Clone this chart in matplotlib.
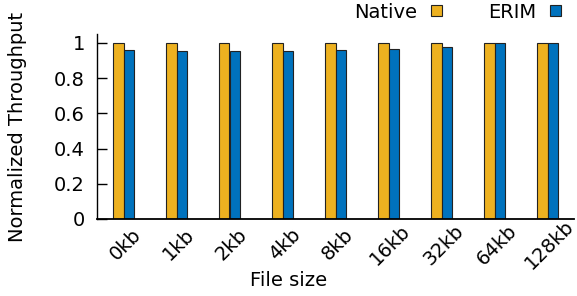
import matplotlib
matplotlib.use("Agg")
import matplotlib.pyplot as plt
import matplotlib.transforms as mtransforms
from matplotlib.patches import Patch
import numpy as np

categories = ["0kb", "1kb", "2kb", "4kb", "8kb", "16kb", "32kb", "64kb", "128kb"]
native = [1.0, 1.0, 1.0, 1.0, 1.0, 1.0, 1.0, 1.0, 1.0]
erim = [0.959, 0.952, 0.955, 0.952, 0.961, 0.963, 0.975, 1.0, 1.0]
yticks = [0, 0.2, 0.4, 0.6, 0.8, 1]
yticklabels = ["0", "0.2", "0.4", "0.6", "0.8", "1"]

plt.rcParams['font.family'] = ['DejaVu Sans']
FS = 14

fig = plt.figure(figsize=(5.77, 2.96), dpi=100)
ax = fig.add_axes([97/577, 1-219/296, 477/577, 185/296])

x = np.arange(len(categories))
w = 0.2
c_native = "#EDB120"
c_erim = "#0072BD"
ax.bar(x - w/2, native, w, color=c_native, edgecolor="#222222", linewidth=0.8)
ax.bar(x + w/2, erim, w, color=c_erim, edgecolor="#222222", linewidth=0.8)

ax.set_xlim(-0.5, 8.5)
ax.set_ylim(0, 1.05)

for s in ["top", "right"]:
    ax.spines[s].set_visible(False)
ax.spines["left"].set_linewidth(1.0)
ax.spines["bottom"].set_linewidth(1.3)

ax.set_yticks(yticks)
ax.set_yticklabels(yticklabels, fontsize=FS)
ax.tick_params(axis="y", direction="in", length=7, width=1.0, pad=8.6)

ax.set_xticks(x)
ax.set_xticklabels(categories, fontsize=FS, rotation=45, ha="center", va="center")
ax.tick_params(axis="x", length=0, pad=18.5)
offset = mtransforms.ScaledTranslation(2/100, 0, fig.dpi_scale_trans)
for lab in ax.get_xticklabels():
    lab.set_transform(lab.get_transform() + offset)

ax.set_xlabel("File size", fontsize=FS)
ax.xaxis.set_label_coords(0.5, 1-281/296, transform=fig.transFigure)
ax.xaxis.label.set_va("center")
ax.set_ylabel("Normalized Throughput", fontsize=FS)
ax.yaxis.set_label_coords(18/577, 0.5)
ax.yaxis.label.set_transform(mtransforms.blended_transform_factory(fig.transFigure, ax.transAxes))
ax.yaxis.label.set_va("center")

handles = [Patch(facecolor=c_native, edgecolor="#222222", linewidth=0.8, label="Native"),
           Patch(facecolor=c_erim, edgecolor="#222222", linewidth=0.8, label="ERIM")]
fig.legend(handles=handles, ncol=2, markerfirst=False, frameon=False, fontsize=FS,
           loc="center right", bbox_to_anchor=(561/577, 1-12/296),
           bbox_transform=fig.transFigure, borderpad=0, borderaxespad=0,
           handlelength=0.57, handleheight=0.55, handletextpad=0.7, columnspacing=2.36)

fig.savefig("out.png", dpi=100)
